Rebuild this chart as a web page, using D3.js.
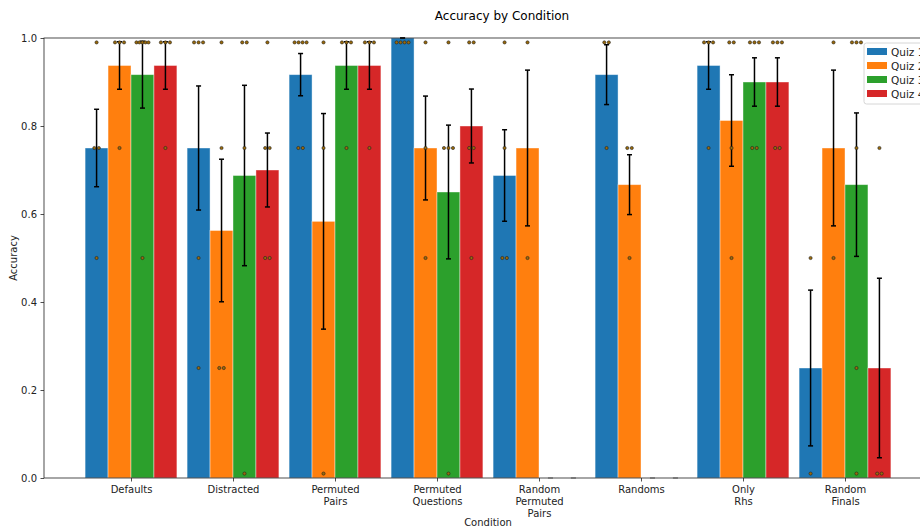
<!DOCTYPE html>
<html><head><meta charset="utf-8">
<script src="https://cdn.jsdelivr.net/npm/d3@7"></script>
<style>
body{margin:0;background:#fff;}
svg{display:block;font-family:"DejaVu Sans",sans-serif;}
</style></head>
<body><svg id="c" width="920" height="526"></svg>
<script>
const categories = ["Defaults","Distracted","Permuted\nPairs","Permuted\nQuestions","Random\nPermuted\nPairs","Randoms","Only\nRhs","Random\nFinals"];
const seriesNames = ["Quiz 1","Quiz 2","Quiz 3","Quiz 4"];
const colors = ["#1f77b4","#ff7f0e","#2ca02c","#d62728"];

const quiz1Mean = [0.75, 0.75, 0.9167, 1.0, 0.6875, 0.9167, 0.9375, 0.25];
const quiz2Mean = [0.9375, 0.5625, 0.5833, 0.75, 0.75, 0.6667, 0.8125, 0.75];
const quiz3Mean = [0.9167, 0.6875, 0.9375, 0.65, 0, 0, 0.9, 0.6667];
const quiz4Mean = [0.9375, 0.70, 0.9375, 0.80, 0, 0, 0.9, 0.25];

const quiz1Err = [0.088, 0.141, 0.048, 0, 0.104, 0.068, 0.054, 0.177];
const quiz2Err = [0.054, 0.162, 0.245, 0.118, 0.177, 0.068, 0.104, 0.177];
const quiz3Err = [0.076, 0.205, 0.054, 0.152, 0, 0, 0.055, 0.163];
const quiz4Err = [0.054, 0.084, 0.054, 0.084, 0, 0, 0.055, 0.204];

const quiz1Points = [[1,.75,.75,.5],[1,1,1,.5,.25],[1,1,1,1,.75,.75],[1,1,1,1],[1,.75,.5,.5],[1,1,.75],[1,1,1,.75],[.5,0]];
const quiz2Points = [[1,1,1,.75],[1,.75,.25,.25],[1,.75,0],[1,.75,.5],[1,.5],[.75,.75,.5],[1,1,.75,.5],[1,.5]];
const quiz3Points = [[1,1,1,1,1,.5],[1,1,.75,0],[1,1,1,.75],[1,.75,.75,.75,0],[],[],[1,1,1,.75,.75],[1,1,1,.75,.25,0]];
const quiz4Points = [[1,1,1,.75],[1,.75,.75,.5,.5],[1,1,1,.75],[1,1,.75,.75,.5],[],[],[1,1,1,.75,.75],[.75,0,0]];

const yTicks = [0.0, 0.2, 0.4, 0.6, 0.8, 1.0];

const means = [quiz1Mean, quiz2Mean, quiz3Mean, quiz4Mean];
const errs = [quiz1Err, quiz2Err, quiz3Err, quiz4Err];
const pts = [quiz1Points, quiz2Points, quiz3Points, quiz4Points];

const svg = d3.select("#c");
const L = 44, R = 960, T = 38, B = 478;
const x = d3.scaleLinear().domain([0, categories.length - 1]).range([131, 845]);
const step = x(1) - x(0);
const barW = step * 0.225;
const y = d3.scaleLinear().domain([0, 1]).range([B, T]);

const g = svg.append("g");

const bars = [];
means.forEach((m, s) => m.forEach((v, i) => bars.push({s, i, v, e: errs[s][i], p: pts[s][i]})));
const cx = d => x(d.i) + (d.s - 1.5) * barW;

g.selectAll("rect.bar").data(bars).join("rect")
  .attr("x", d => cx(d) - barW / 2)
  .attr("width", barW)
  .attr("y", d => y(d.v))
  .attr("height", d => y(0) - y(d.v))
  .attr("fill", d => colors[d.s])
  .attr("stroke", "rgba(255,255,255,0.5)")
  .attr("stroke-width", 0.8);

const eb = g.selectAll("g.eb").data(bars).join("g");
eb.append("line")
  .attr("x1", cx).attr("x2", cx)
  .attr("y1", d => y(d.v + d.e)).attr("y2", d => y(d.v - d.e))
  .attr("stroke", "#000").attr("stroke-width", 1.5);
[1, -1].forEach(sg => {
  eb.append("line")
    .attr("x1", d => cx(d) - 2.5).attr("x2", d => cx(d) + 2.5)
    .attr("y1", d => y(d.v + sg * d.e)).attr("y2", d => y(d.v + sg * d.e))
    .attr("stroke", d => d.v === 0 && d.e === 0 ? "#999" : "#000")
    .attr("stroke-width", d => d.v === 0 && d.e === 0 ? 1 : 1.5);
});

const dots = [];
bars.forEach(d => {
  const groups = d3.group(d.p, v => v);
  groups.forEach((arr, val) => {
    const n = arr.length;
    const sp = n > 1 ? Math.min(4.5, 12 / (n - 1)) : 0;
    arr.forEach((v, k) => dots.push({x: cx(d) + (k - (n - 1) / 2) * sp, v: Math.min(0.99, Math.max(0.01, v))}));
  });
});
g.selectAll("circle.pt").data(dots).join("circle")
  .attr("cx", d => d.x).attr("cy", d => y(d.v)).attr("r", 1.6)
  .attr("fill", "#9a6a0a").attr("stroke", "#222").attr("stroke-width", 0.6);

const yAxis = d3.axisLeft(y).tickValues(yTicks).tickFormat(d3.format(".1f")).tickSize(3.5).tickPadding(3.5);
const ya = svg.append("g").attr("transform", `translate(${L},0)`).call(yAxis);
ya.select(".domain").remove();
ya.selectAll("text").attr("font-size", 10).attr("fill", "#222").attr("font-family", "DejaVu Sans");
ya.selectAll("line").attr("stroke", "#222").attr("stroke-width", 0.8);

const xAxis = d3.axisBottom(x).tickValues(d3.range(categories.length)).tickFormat("").tickSize(3.5);
const xa = svg.append("g").attr("transform", `translate(0,${B})`).call(xAxis);
xa.select(".domain").remove();
xa.selectAll("line").attr("stroke", "#222").attr("stroke-width", 0.8);
xa.selectAll(".tick").each(function(i) {
  const t = d3.select(this).append("text").attr("fill", "#222").attr("font-size", 10)
    .attr("font-family", "DejaVu Sans").attr("text-anchor", "middle").attr("y", 15);
  categories[i].split("\n").forEach((ln, k) => t.append("tspan").attr("x", 0).attr("dy", k === 0 ? 0 : 12).text(ln));
});

svg.append("rect").attr("x", L).attr("y", T).attr("width", R - L).attr("height", B - T)
  .attr("fill", "none").attr("stroke", "#222").attr("stroke-width", 0.8);

svg.append("text").attr("x", (L + R) / 2).attr("y", 20).attr("text-anchor", "middle")
  .attr("font-size", 12).attr("fill", "#000").text("Accuracy by Condition");
svg.append("text").attr("transform", `translate(17,${(T + B) / 2}) rotate(-90)`).attr("text-anchor", "middle")
  .attr("font-size", 10).attr("fill", "#222").text("Accuracy");
svg.append("text").attr("x", (L + R) / 2 - 14).attr("y", 526).attr("text-anchor", "middle")
  .attr("font-size", 10).attr("fill", "#222").text("Condition");

const lg = svg.append("g").attr("transform", "translate(864,43)");
lg.append("rect").attr("width", 92).attr("height", 61).attr("rx", 2.5)
  .attr("fill", "rgba(255,255,255,0.8)").attr("stroke", "#ccc").attr("stroke-width", 0.8);
seriesNames.forEach((nm, k) => {
  lg.append("rect").attr("x", 3).attr("y", 5 + k * 14).attr("width", 20).attr("height", 7).attr("fill", colors[k]);
  lg.append("text").attr("x", 27).attr("y", 12.5 + k * 14).attr("font-size", 10.5).attr("fill", "#222").text(nm);
});
</script></body></html>
